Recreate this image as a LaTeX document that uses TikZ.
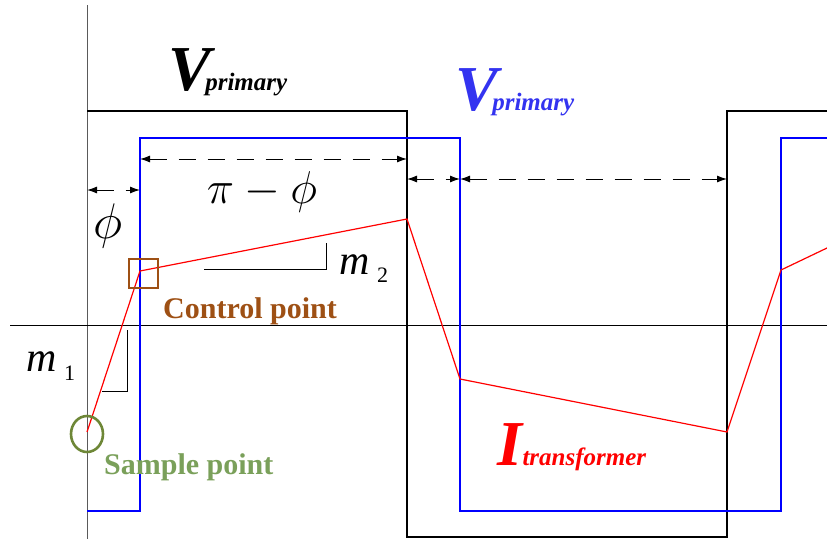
\documentclass[tikz,border=0pt]{standalone}
\usepackage{fix-cm}
\usepackage{fontspec}
\setmainfont{Liberation Serif}[
  BoldFont={Liberation Serif Bold},
  ItalicFont={Liberation Serif Italic},
  BoldItalicFont={Liberation Serif Bold Italic}]
\usepackage{tikz}
\usetikzlibrary{arrows.meta,positioning,calc,shapes.geometric}
\definecolor{wavblue}{RGB}{0,0,255}
\definecolor{labelblue}{RGB}{51,51,240}
\definecolor{ctrlbrown}{RGB}{158,80,20}
\definecolor{samplegreen}{RGB}{122,160,90}
\definecolor{circolive}{RGB}{110,135,55}
\definecolor{axisgray}{RGB}{90,90,90}

\begin{document}
\begin{tikzpicture}[
        x=1pt, y=-1pt,
        axis/.style={draw=axisgray, line width=1pt},
        wave/.style={line width=1.4pt},
        dim/.style={{Latex[length=10pt,width=7pt]}-{Latex[length=10pt,width=7pt]}, line width=1pt, dash pattern=on 17pt off 12pt},
        slope/.style={draw, line width=0.8pt},
        bigsym/.style={inner sep=0pt, anchor=base west, font=\bfseries\itshape\fontsize{64}{64}\selectfont},
        subsym/.style={inner sep=0pt, anchor=base west, font=\bfseries\itshape\fontsize{25}{25}\selectfont},
        tag/.style={inner sep=0pt, anchor=base west, font=\bfseries\fontsize{30}{30}\selectfont},
        mvar/.style={inner sep=0pt, anchor=base west, font=\itshape\fontsize{42}{42}\selectfont},
        mind/.style={inner sep=0pt, anchor=base west, font=\fontsize{22}{22}\selectfont}
    ]
        \useasboundingbox (0,0) rectangle (827,539);

        % Axes
        \coordinate (ytop) at (87,5);
        \coordinate (ybot) at (87,539);
        \coordinate (xl) at (10,325);
        \coordinate (xr) at (827,325);
        \draw[axis] (ytop) -- (ybot);
        \draw[draw=black, line width=1pt] (xl) -- (xr);

        % Waveforms
        \draw[wave, black] (87,111) -- (407,111) -- (407,537) -- (727,537) -- (727,111) -- (827,111);
        \draw[wave, wavblue] (87,511) -- (140,511) -- (140,138) -- (460,138) -- (460,511) -- (781,511) -- (781,138) -- (827,138);

        % Current
        \coordinate (smp) at (87,432);
        \coordinate (ctl) at (140,271);
        \coordinate (pk) at (407,219);
        \draw[line width=1.2pt, red] (smp) -- (ctl) -- (pk) -- (460,379) -- (727,432) -- (781,270) -- (827,248);

        % Phase arrows
        \coordinate (a0) at (87,190);
        \coordinate (a1) at (140,190);
        \coordinate (b0) at (140,159);
        \coordinate (b1) at (407,159);
        \coordinate (c0) at (407,179);
        \coordinate (c1) at (460,179);
        \coordinate (c2) at (727,179);
        \draw[dim] (a0) -- (a1);
        \draw[dim] (b0) -- (b1);
        \draw[dim] (c0) -- (c1);
        \draw[dim] (c1) -- (c2);

        % Slopes
        \draw[slope] (204,269) -- (326,269) -- (326,243);
        \draw[slope] (127,330) -- (127,391) -- (102,391);

        % Markers
        \node[draw=ctrlbrown, line width=2pt, minimum size=29pt, inner sep=0pt] (ctlbox) at (143,273) {};
        \node[draw=circolive, line width=2.6pt, ellipse, minimum width=32pt, minimum height=36pt, inner sep=0pt] (smpring) at (87,434) {};

        % Labels
        \node[bigsym] (vpri) at (168,90) {V};
        \node[subsym, xshift=-6pt] (vprisub) at (vpri.base east) {primary};
        \node[bigsym, text=labelblue] (vsec) at (455,110) {V};
        \node[subsym, text=labelblue, xshift=-6pt] (vsecsub) at (vsec.base east) {primary};
        \node[bigsym, text=red] (itr) at (497,465) {I};
        \node[subsym, text=red] (itrsub) at (itr.base east) {transformer};

        \node[inner sep=0pt, font=\fontsize{46}{46}\selectfont] (pimphi) at (262,192) {$\pi-\phi$};
        \node[inner sep=0pt, font=\fontsize{50}{50}\selectfont] (phi) at (108,226) {$\phi$};

        \node[mvar] (m2) at (339,274) {m};
        \node[mind] (m2i) at (377,282) {2};
        \node[mvar] (m1) at (26,371) {m};
        \node[mind] (m1i) at (64,380) {1};

        \node[tag, text=ctrlbrown] (ctltxt) at (163,318) {Control point};
        \node[tag, text=samplegreen] (smptxt) at (104,474) {Sample point};

    \end{tikzpicture}
\end{document}
